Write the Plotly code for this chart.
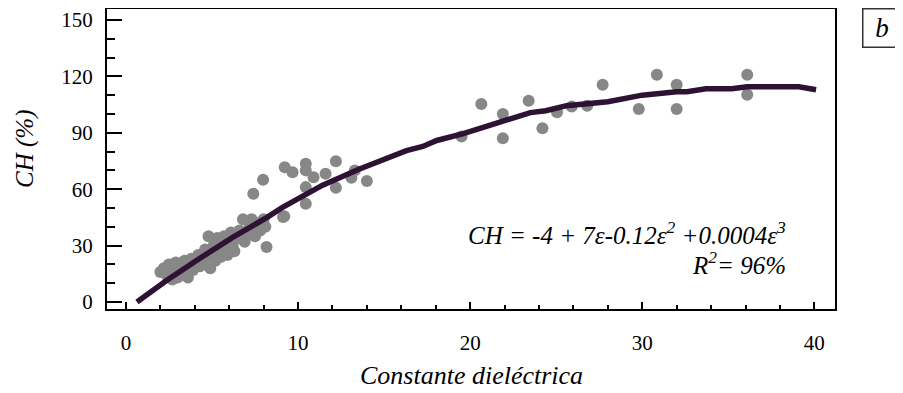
import plotly.graph_objects as go

# Observed data (Constante dieléctrica vs CH %)
obs_x = [2.0, 2.2, 2.4, 2.5, 2.7, 2.8, 2.9, 3.0, 3.1, 3.2, 3.4, 3.5, 3.6, 3.8, 3.9,
         4.0, 4.2, 4.3, 4.5, 4.6, 4.7, 4.8, 4.9, 5.0, 5.1, 5.2, 5.3, 5.4, 5.5, 5.6,
         5.7, 5.8, 5.9, 6.0, 6.1, 6.2, 6.3, 6.5, 6.6, 6.8, 6.9, 7.0, 7.2, 7.3, 7.4,
         7.5, 7.6, 7.8, 7.97, 8.0, 8.1, 8.17, 9.13, 9.2, 9.23, 9.68, 10.45, 10.45,
         10.9, 11.6, 12.2, 13.3, 13.1, 14.0, 10.45, 12.2, 10.45,
         19.5, 20.65, 21.9, 21.9, 23.4, 24.2, 25.05, 25.9, 26.8, 27.7, 29.8, 30.85,
         32.0, 32.0, 36.1, 36.1]
obs_y = [16, 18, 14, 20, 12, 17, 21, 13, 19, 15, 22, 18, 13, 23, 17,
         20, 25, 19, 22, 28, 24, 35, 18, 26, 30, 22, 34, 27, 24, 31,
         35, 28, 25, 33, 37, 30, 27, 34, 38, 44, 32, 36, 40, 44, 57.6,
         35, 42, 38, 65, 44, 40, 29.3, 45.2, 45.6, 71.7, 69, 73.5, 70,
         66.4, 68.2, 74.9, 70, 66.1, 64.3, 61.1, 60.8, 52.3,
         88, 105.3, 100, 87.1, 107, 92.4, 100.9, 103.9, 104.4, 115.5, 102.6, 120.8,
         115.5, 102.6, 120.8, 110.2]

# Fitted curve
fit_x = [0.64, 2.4, 4.3, 6.2, 8.2, 9.1, 11.4, 13.5, 16.3, 17.25, 18.06, 19.6, 21.5,
         23.5, 24.4, 25.6, 28.0, 30.0, 32.0, 32.6, 33.7, 35.2, 36.1, 39.1, 40.1]
fit_y = [0, 11.7, 23.3, 34.4, 45, 50.3, 62, 70.5, 80.5, 82.7, 85.9, 89.5, 95,
         100.7, 101.7, 104.4, 106.5, 110, 111.8, 111.8, 113.4, 113.4, 114.5, 114.5, 112.9]

x_major = [0, 10, 20, 30, 40]
y_major = [0, 30, 60, 90, 120, 150]

FONT = "Liberation Serif"

W, H = 895, 385
L, R, T, B = 99, 68, 1, 84
PW, PH = W - L - R, H - T - B


def px(xp):
    # page x (reference pixels) -> paper coordinate
    return (xp - 8 - L) / PW


def py(yp):
    return (H - B - (yp - 8)) / PH


fig = go.Figure()
fig.add_trace(go.Scatter(x=obs_x, y=obs_y, mode="markers",
                         marker=dict(size=12, color="#878787"),
                         showlegend=False))
fig.add_trace(go.Scatter(x=fit_x, y=fit_y, mode="lines",
                         line=dict(color="#2e1233", width=5.5),
                         showlegend=False))

fig.update_layout(
    width=W, height=H,
    margin=dict(l=L, r=R, t=T, b=B, autoexpand=False),
    plot_bgcolor="white", paper_bgcolor="white",
    font=dict(family=FONT, size=21),
    xaxis=dict(range=[-1.1, 41.2], tickvals=x_major, ticktext=[str(v) for v in x_major],
               ticks="inside", ticklen=7, tickwidth=2, tickcolor="black",
               minor=dict(dtick=2, tick0=0, ticks="inside", ticklen=4, tickwidth=2, tickcolor="black"),
               showline=True, linecolor="black", linewidth=2, mirror=True,
               showgrid=False, zeroline=False, ticklabelstandoff=14, automargin=False,
               tickfont=dict(family=FONT, size=21, color="black")),
    yaxis=dict(range=[-3.7, 155.8], tickvals=y_major, ticktext=[str(v) for v in y_major],
               ticks="inside", ticklen=15, tickwidth=2, tickcolor="black",
               minor=dict(dtick=10, tick0=0, ticks="inside", ticklen=8, tickwidth=2, tickcolor="black"),
               showline=True, linecolor="black", linewidth=2, mirror=True,
               showgrid=False, zeroline=False, ticklabelstandoff=8, automargin=False,
               tickfont=dict(family=FONT, size=21, color="black")),
)

# Axis titles
fig.add_annotation(text="<i>Constante dieléctrica</i>", xref="paper", yref="paper",
                   x=px(471), y=py(375), xanchor="center", yanchor="middle", showarrow=False,
                   font=dict(family=FONT, size=26, color="black"))
fig.add_annotation(text="<i>CH (%)</i>", xref="paper", yref="paper",
                   x=px(25), y=py(149), xanchor="center", yanchor="middle", showarrow=False,
                   textangle=-90, font=dict(family=FONT, size=25, color="black"))

# Equation
fig.add_annotation(text="<i>CH = -4 + 7ε-0.12ε<sup>2</sup> +0.0004ε<sup>3</sup></i>",
                   xref="paper", yref="paper", x=px(788), y=py(233),
                   xanchor="right", yanchor="middle", showarrow=False,
                   font=dict(family=FONT, size=25, color="black"))
fig.add_annotation(text="<i>R<sup>2</sup>= 96%</i>",
                   xref="paper", yref="paper", x=px(788), y=py(263),
                   xanchor="right", yanchor="middle", showarrow=False,
                   font=dict(family=FONT, size=25, color="black"))

# Panel label in a bordered box
fig.add_annotation(text="<i>b</i>", xref="paper", yref="paper",
                   x=px(882), y=py(28),
                   xanchor="center", yanchor="middle", showarrow=False,
                   width=35, height=35, borderpad=1, bordercolor="#333333", borderwidth=1.5,
                   font=dict(family=FONT, size=27, color="black"))

fig.write_html("out.html")
